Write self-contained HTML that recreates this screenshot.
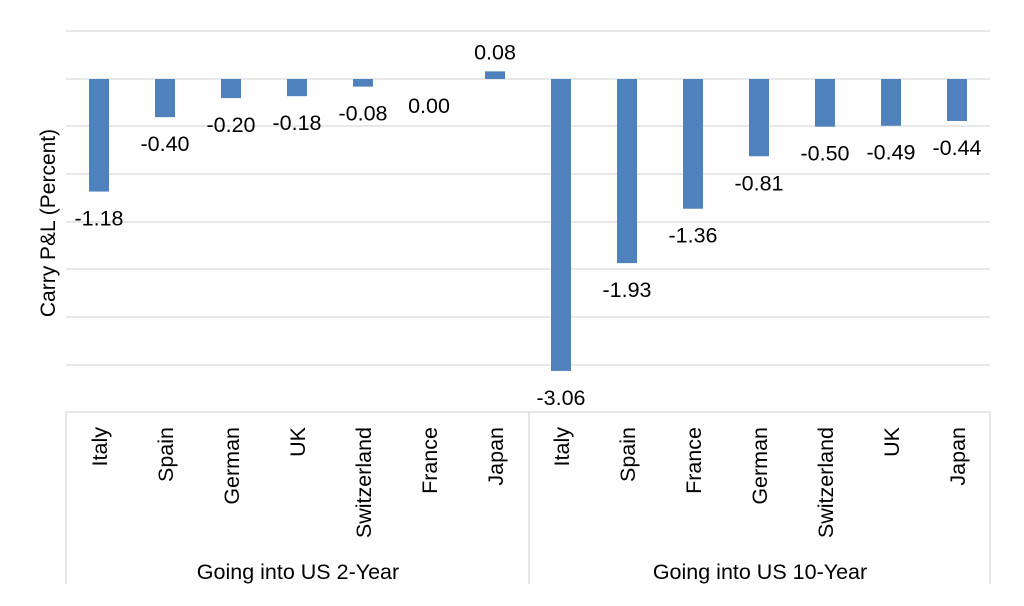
<!DOCTYPE html>
<html><head><style>body{margin:0;background:#fff}</style></head><body>
<svg width="1024" height="601" xmlns="http://www.w3.org/2000/svg" font-family="Liberation Sans, Arial, sans-serif">
<g stroke="#d9d9d9" stroke-width="1.3">
<line x1="66" x2="990" y1="31" y2="31"/><line x1="66" x2="990" y1="79" y2="79"/><line x1="66" x2="990" y1="126" y2="126"/><line x1="66" x2="990" y1="174" y2="174"/><line x1="66" x2="990" y1="222" y2="222"/><line x1="66" x2="990" y1="269" y2="269"/><line x1="66" x2="990" y1="317" y2="317"/><line x1="66" x2="990" y1="365" y2="365"/>
<line x1="66" x2="990" y1="412" y2="412"/>
<line x1="66" x2="66" y1="412" y2="584"/><line x1="529" x2="529" y1="412" y2="584"/><line x1="990" x2="990" y1="412" y2="584"/>
</g>
<g fill="#4f81bd" id="bars"></g>
<text x="55" y="223" font-size="21" text-anchor="middle" transform="rotate(-90 55 223)">Carry P&amp;L (Percent)</text>
<g font-size="21.5" text-anchor="middle" id="lbl"></g>
<g font-size="21.5" id="cat"></g>
<text x="298" y="579" font-size="21.5" text-anchor="middle">Going into US 2-Year</text>
<text x="760" y="579" font-size="21.5" text-anchor="middle">Going into US 10-Year</text>
<script>
var names=["Italy","Spain","German","UK","Switzerland","France","Japan","Italy","Spain","France","German","Switzerland","UK","Japan"];
var vals=[-1.18,-0.40,-0.20,-0.18,-0.08,0.00,0.08,-3.06,-1.93,-1.36,-0.81,-0.50,-0.49,-0.44];
var ns="http://www.w3.org/2000/svg",b=document.getElementById("bars"),l=document.getElementById("lbl"),c=document.getElementById("cat");
function t(p,x,y,s,r){var e=document.createElementNS(ns,"text");e.setAttribute("x",x);e.setAttribute("y",y);if(r){e.setAttribute("transform","rotate(-90 "+x+" "+y+")");e.setAttribute("text-anchor","end");}e.textContent=s;p.appendChild(e);}
for(var i=0;i<14;i++){var cx=66+33+i*66,v=vals[i],h=Math.abs(v)*95.4,y=v<0?79:79-h;
var r=document.createElementNS(ns,"rect");r.setAttribute("x",cx-10);r.setAttribute("y",y);r.setAttribute("width",20);r.setAttribute("height",h);b.appendChild(r);
var ly=v<0?79+h+34:79-h-12; if(v==0)ly=79+34;
t(l,cx,ly,v.toFixed(2));
t(c,cx+8,427,names[i],true);}
</script>
</svg>
</body></html>
